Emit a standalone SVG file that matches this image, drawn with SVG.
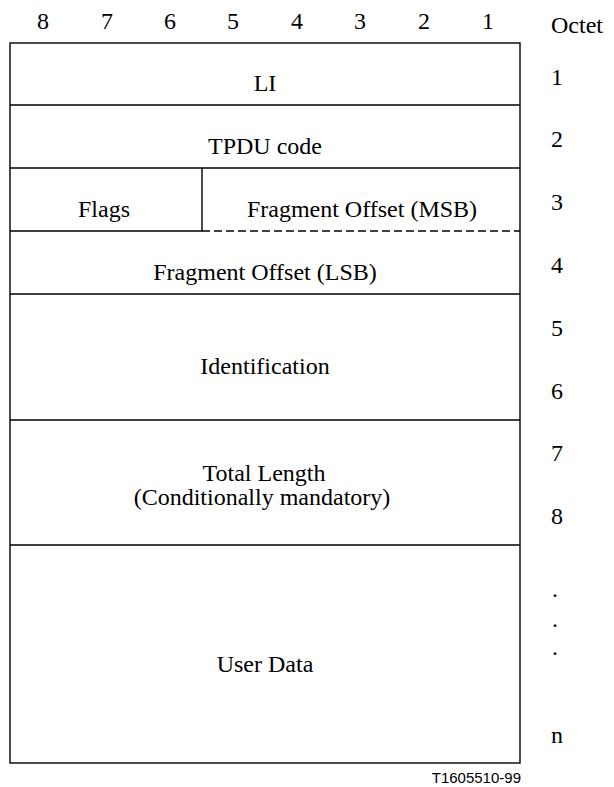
<svg xmlns="http://www.w3.org/2000/svg" width="614" height="787" viewBox="0 0 614 787">
<style>
text{font-family:"Liberation Serif","Times New Roman",serif;font-size:24px;fill:#000}
.c{text-anchor:middle}
.l{stroke:#000;stroke-width:1.4;fill:none}
</style>
<rect width="614" height="787" fill="#fff"/>
<g id="bits">
<text class="c" x="43" y="29">8</text>
<text class="c" x="107" y="29">7</text>
<text class="c" x="170" y="29">6</text>
<text class="c" x="233" y="29">5</text>
<text class="c" x="297" y="29">4</text>
<text class="c" x="360" y="29">3</text>
<text class="c" x="424" y="29">2</text>
<text class="c" x="488" y="29">1</text>
<text x="551" y="33">Octet</text>
</g>
<g id="frame">
<rect class="l" x="10" y="43" width="510" height="720"/>
<line class="l" x1="10" y1="105" x2="520" y2="105"/>
<line class="l" x1="10" y1="168" x2="520" y2="168"/>
<line class="l" x1="10" y1="231" x2="202" y2="231"/>
<line class="l" x1="202" y1="231" x2="520" y2="231" stroke-dasharray="8,4"/>
<line class="l" x1="202" y1="168" x2="202" y2="231"/>
<line class="l" x1="10" y1="294" x2="520" y2="294"/>
<line class="l" x1="10" y1="420" x2="520" y2="420"/>
<line class="l" x1="10" y1="545" x2="520" y2="545"/>
</g>
<g id="fields">
<text class="c" x="265" y="91">LI</text>
<text class="c" x="265" y="154">TPDU code</text>
<text class="c" x="104" y="217">Flags</text>
<text class="c" x="362" y="217">Fragment Offset (MSB)</text>
<text class="c" x="265" y="280">Fragment Offset (LSB)</text>
<text class="c" x="265" y="374">Identification</text>
<text class="c" x="264" y="481">Total Length</text>
<text class="c" x="262" y="505">(Conditionally mandatory)</text>
<text class="c" x="265" y="672">User Data</text>
</g>
<g id="octets">
<text x="551" y="85">1</text>
<text x="551" y="147">2</text>
<text x="551" y="210">3</text>
<text x="551" y="273">4</text>
<text x="551" y="336">5</text>
<text x="551" y="399">6</text>
<text x="551" y="461">7</text>
<text x="551" y="524">8</text>
<text x="552" y="597">.</text>
<text x="552" y="627">.</text>
<text x="552" y="655">.</text>
<text x="551" y="743">n</text>
</g>
<text x="521" y="783" text-anchor="end" style="font-family:'Liberation Sans',Arial,sans-serif;font-size:15px">T1605510-99</text>
</svg>
